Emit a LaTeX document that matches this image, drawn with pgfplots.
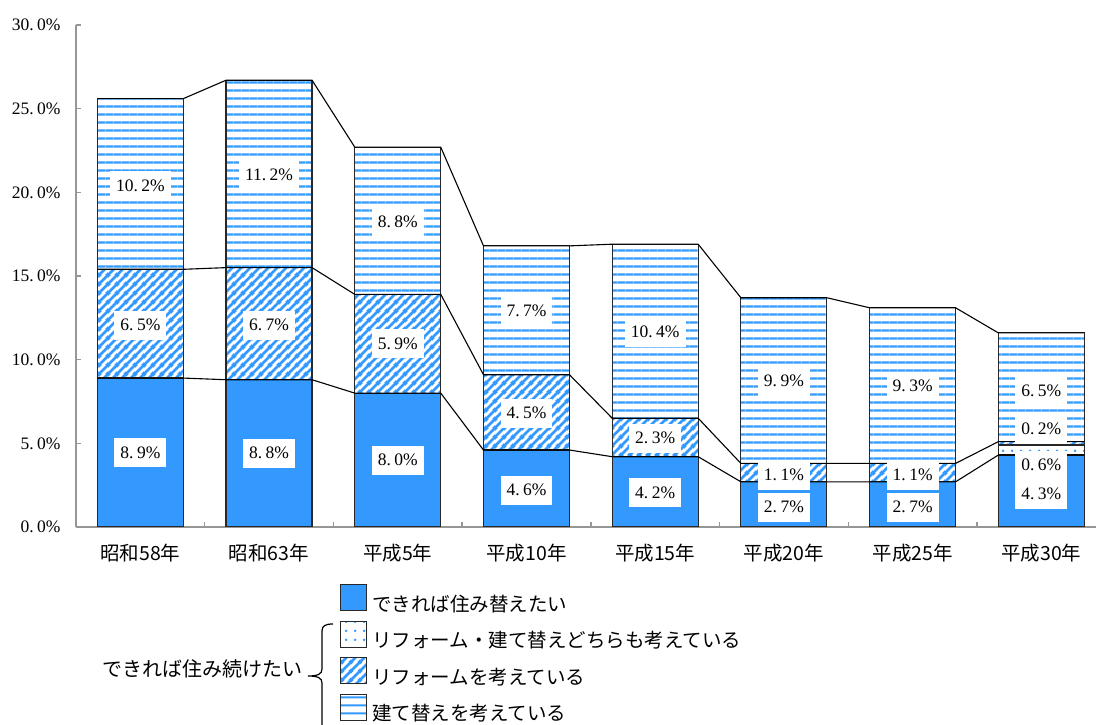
\documentclass[border=0pt]{standalone}
\usepackage{pgfplots}
\pgfplotsset{compat=1.18}
\usepackage{pgfplotstable}
\usetikzlibrary{patterns}
\usepackage{fontspec}
\setmainfont{Liberation Serif}
\newfontfamily\jp{Noto Sans CJK JP}
\newcommand\numfont{\fontsize{17.5}{18}\selectfont}
\newcommand\jpfont{\jp\fontsize{19.5}{21}\selectfont}
\definecolor{blueA}{RGB}{51,153,255}
\definecolor{axgray}{RGB}{150,150,150}
\definecolor{edge}{RGB}{40,40,40}

\pgfdeclarepatternformonly{hlinesA}{\pgfpointorigin}{\pgfqpoint{7.5pt}{7.5pt}}{\pgfqpoint{7.5pt}{7.5pt}}{%
  \pgfsetlinewidth{2.2pt}%
  \pgfpathmoveto{\pgfqpoint{-0.5pt}{3.75pt}}%
  \pgfpathlineto{\pgfqpoint{8pt}{3.75pt}}%
  \pgfusepath{stroke}}
\pgfdeclarepatternformonly{dlinesA}{\pgfpointorigin}{\pgfqpoint{9pt}{9pt}}{\pgfqpoint{9pt}{9pt}}{%
  \pgfsetlinewidth{3pt}%
  \pgfpathmoveto{\pgfqpoint{-1pt}{-1pt}}\pgfpathlineto{\pgfqpoint{10pt}{10pt}}%
  \pgfpathmoveto{\pgfqpoint{-3pt}{6pt}}\pgfpathlineto{\pgfqpoint{3pt}{12pt}}%
  \pgfpathmoveto{\pgfqpoint{6pt}{-3pt}}\pgfpathlineto{\pgfqpoint{12pt}{3pt}}%
  \pgfusepath{stroke}}
\pgfdeclarepatternformonly{dotsA}{\pgfpointorigin}{\pgfqpoint{9pt}{9pt}}{\pgfqpoint{9pt}{9pt}}{%
  \pgfpathcircle{\pgfqpoint{4.5pt}{4.5pt}}{1.5pt}%
  \pgfusepath{fill}}

\pgfplotstableread{
x  kae  both  reform  rebuild
0  8.9  0.0   6.5  10.2
1  8.8  0.0   6.7  11.2
2  8.0  0.0   5.9  8.8
3  4.6  0.0   4.5  7.7
4  4.2  0.0   2.3  10.4
5  2.7  0.0   1.1  9.9
6  2.7  0.0   1.1  9.3
7  4.3  0.6   0.2  6.5
}\datatable

\pgfplotstableread{
x      kae  both  reform  rebuild
-0.334 8.9  0.0   6.5  10.2
0.334  8.9  0.0   6.5  10.2
0.666  8.8  0.0   6.7  11.2
1.334  8.8  0.0   6.7  11.2
1.666  8.0  0.0   5.9  8.8
2.334  8.0  0.0   5.9  8.8
2.666  4.6  0.0   4.5  7.7
3.334  4.6  0.0   4.5  7.7
3.666  4.2  0.0   2.3  10.4
4.334  4.2  0.0   2.3  10.4
4.666  2.7  0.0   1.1  9.9
5.334  2.7  0.0   1.1  9.9
5.666  2.7  0.0   1.1  9.3
6.334  2.7  0.0   1.1  9.3
6.666  4.3  0.6   0.2  6.5
7.334  4.3  0.6   0.2  6.5
}\linktable

\pgfplotstableread{
x  y      v
0  4.45   8.9
0  12.05  6.5
0  20.4   10.2
1  4.4    8.8
1  12.05  6.7
1  21.05  11.2
2  4.0    8.0
2  10.95  5.9
2  18.25  8.8
3  2.2    4.6
3  6.8    4.5
3  12.9   7.7
4  2.05   4.2
4  5.3    2.3
4  11.65  10.4
5  1.17   2.7
5  3.1    1.1
5  8.7    9.9
6  1.17   2.7
6  3.1    1.1
6  8.4    9.3
7  1.95   4.3
7  3.68   0.6
7  5.83   0.2
7  8.15   6.5
}\labeltable

\pgfplotsset{
  common/.style={
    at={(76pt,198pt)}, anchor=south west,
    width=1020pt, height=502pt, scale only axis,
    xmin=-0.5, xmax=7.425, ymin=0, ymax=30,
  }
}

\begin{document}
\begin{tikzpicture}
\begin{axis}[common,
  ybar stacked, bar width=86pt,
  axis x line*=bottom, axis y line*=left,
  axis line style={draw=axgray, line width=1.8pt},
  xtick={0.5,1.5,...,6.5}, xticklabels={},
  extra x ticks={0,1,...,7},
  extra x tick labels={昭和58年,昭和63年,平成5年,平成10年,平成15年,平成20年,平成25年,平成30年},
  extra x tick style={major tick length=0pt, tick label style={font=\jpfont, yshift=-14pt}},
  ytick={0,5,...,30},
  tick style={draw=axgray, line width=1.5pt},
  major tick length=5pt, tick align=inside,
  yticklabel={\pgfmathprintnumber[fixed,fixed zerofill,precision=1,dec sep={.\kern3.5pt}]{\tick}\%},
  y tick label style={font=\numfont, xshift=-12pt},
  /pgf/number format/assume math mode=true,
  legend style={draw=none, fill=none, at={(0.2588,-0.1135)}, anchor=north west,
    inner sep=0pt, font=\jpfont, row sep=8pt, column sep=5pt,
    nodes={inner sep=0pt}},
  legend cell align=left,
  legend image code/.code={\draw[#1, draw=edge, line width=1.2pt] (0pt,-7pt) rectangle (26pt,19pt);},
]
\addplot[fill=blueA, draw=edge, line width=1.2pt] table[x=x, y=kae] {\datatable};
\addlegendentry{できれば住み替えたい}
\addplot[pattern=dotsA, pattern color=blueA, draw=edge, line width=1.2pt] table[x=x, y=both] {\datatable};
\addlegendentry{リフォーム・建て替えどちらも考えている}
\addplot[pattern=dlinesA, pattern color=blueA, draw=edge, line width=1.2pt] table[x=x, y=reform] {\datatable};
\addlegendentry{リフォームを考えている}
\addplot[pattern=hlinesA, pattern color=blueA, draw=edge, line width=1.2pt] table[x=x, y=rebuild] {\datatable};
\addlegendentry{建て替えを考えている}
\end{axis}

\begin{axis}[common, hide axis, clip=false, stack plots=y]
\addplot[black, line width=1.1pt, mark=none] table[x=x, y=kae] {\linktable};
\addplot[draw=none, mark=none] table[x=x, y=both] {\linktable};
\addplot[black, line width=1.1pt, mark=none] table[x=x, y=reform] {\linktable};
\addplot[black, line width=1.1pt, mark=none] table[x=x, y=rebuild] {\linktable};
\end{axis}

\begin{axis}[common, hide axis, clip=false,
  /pgf/number format/assume math mode=true]
\addplot[only marks, mark=none,
  point meta=explicit,
  nodes near coords={\pgfmathprintnumber[fixed,fixed zerofill,precision=1,dec sep={.\kern3.5pt}]{\pgfplotspointmeta}\%},
  nodes near coords align=center,
  every node near coord/.append style={fill=white, anchor=center, font=\numfont,
    opacity=1, text opacity=1, fill opacity=1,
    inner xsep=6pt, inner ysep=8pt, text height=12pt, text depth=1pt, text=black}]
  table[x=x, y=y, meta=v] {\labeltable};
\end{axis}

\draw[line width=1.2pt] (333pt,101pt) .. controls (325pt,101pt) and (322pt,99pt) .. (322pt,94pt)
  -- (322pt,56pt) .. controls (322pt,51pt) and (318pt,49pt) .. (308pt,49pt)
  .. controls (318pt,49pt) and (322pt,47pt) .. (322pt,42pt) -- (322pt,-20pt);
\node[anchor=base east, inner sep=0pt, font=\jp\fontsize{20}{22}\selectfont] at (303pt,48pt) {できれば住み続けたい};

\pgfresetboundingbox
\useasboundingbox (0pt,0pt) rectangle (1096pt,725pt);
\end{tikzpicture}
\end{document}
